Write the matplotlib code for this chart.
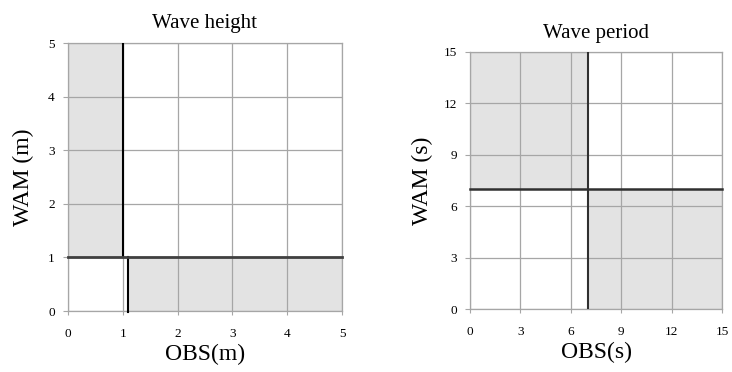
import matplotlib.pyplot as plt

plt.rcParams['font.family'] = 'Liberation Serif'

# Wave height panel
hs_ticks = [0, 1, 2, 3, 4, 5]
hs_obs_thr = 1.0        # vertical line (upper part)
hs_obs_thr_low = 1.1    # vertical line (lower part)
hs_wam_thr = 1.0        # horizontal line
hs_max = 5

# Wave period panel
tp_ticks = [0, 3, 6, 9, 12, 15]
tp_obs_thr = 7.0
tp_wam_thr = 7.0
tp_max = 15

shade = '#e3e3e3'
grid_c = '#a6a6a6'

fig = plt.figure(figsize=(7.32, 3.72), dpi=100)
W, H = 732, 372

def setup(ax, ticks, vmax, title, xlabel, ylabel, tpad):
    ax.set_xlim(0, vmax)
    ax.set_ylim(0, vmax)
    ax.set_xticks(ticks)
    ax.set_yticks(ticks)
    ax.grid(True, color=grid_c, lw=0.9, zorder=1)
    ax.set_axisbelow(False)
    for s in ax.spines.values():
        s.set_color(grid_c)
        s.set_linewidth(0.9)
    ax.tick_params(axis='x', length=3, color=grid_c, pad=9, labelsize=9.5)
    ax.tick_params(axis='y', length=3.5, color=grid_c, pad=6, labelsize=9.5)
    ax.set_title(title, fontsize=15, pad=tpad)
    ax.set_xlabel(xlabel, fontsize=17, labelpad=3)
    ax.set_ylabel(ylabel, fontsize=17)

# left panel
ax1 = fig.add_axes([68 / W, 1 - 311 / H, 274 / W, 268 / H])
setup(ax1, hs_ticks, hs_max, 'Wave height', 'OBS(m)', 'WAM (m)', 11)
ax1.fill_between([0, hs_obs_thr], hs_wam_thr, hs_max, color=shade, lw=0, zorder=0)
ax1.fill_between([hs_obs_thr_low, hs_max], 0, hs_wam_thr, color=shade, lw=0, zorder=0)
ax1.plot([hs_obs_thr, hs_obs_thr], [hs_wam_thr, hs_max], color='black', lw=1.5, zorder=3)
ax1.plot([hs_obs_thr_low, hs_obs_thr_low], [-0.02, hs_wam_thr], color='black', lw=1.5, zorder=3, clip_on=False)
ax1.plot([0, hs_max], [hs_wam_thr, hs_wam_thr], color='#404040', lw=2, zorder=3, clip_on=False)
ax1.yaxis.set_label_coords(-34 / 274, 0.5)

# right panel
ax2 = fig.add_axes([470 / W, 1 - 309 / H, 252 / W, 257 / H])
setup(ax2, tp_ticks, tp_max, 'Wave period', 'OBS(s)', 'WAM (s)', 10)
ax2.fill_between([0, tp_obs_thr], tp_wam_thr, tp_max, color=shade, lw=0, zorder=0)
ax2.fill_between([tp_obs_thr, tp_max], 0, tp_wam_thr, color=shade, lw=0, zorder=0)
ax2.plot([tp_obs_thr, tp_obs_thr], [0, tp_max], color='#303030', lw=1.5, zorder=3)
ax2.plot([0, tp_max], [tp_wam_thr, tp_wam_thr], color='#303030', lw=1.8, zorder=3, clip_on=False)
ax2.yaxis.set_label_coords(-37 / 252, 0.5)

plt.savefig('out.png', dpi=100)
